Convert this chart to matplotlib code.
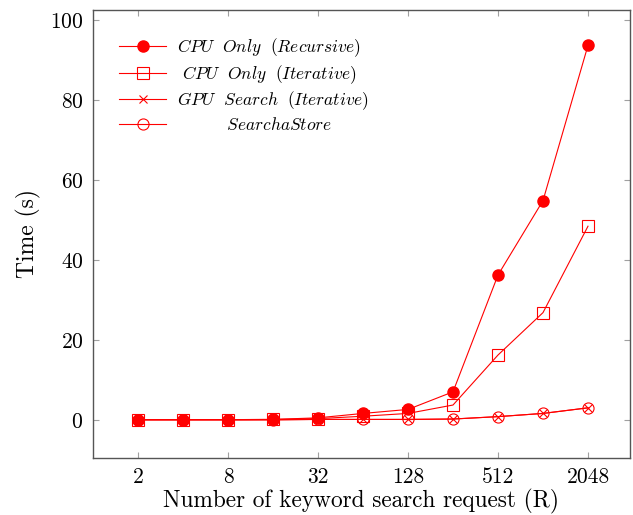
import numpy as np
import matplotlib
matplotlib.use("Agg")
import matplotlib.pyplot as plt

plt.rcParams['font.family'] = 'serif'
plt.rcParams['font.serif'] = ['cmr10']
plt.rcParams['mathtext.fontset'] = 'cm'
plt.rcParams['axes.unicode_minus'] = False
plt.rcParams['axes.formatter.use_mathtext'] = True

requests = [2, 4, 8, 16, 32, 64, 128, 256, 512, 1024, 2048]
cpu_recursive = [0.05, 0.05, 0.05, 0.1, 0.5, 1.6, 2.6, 7.0, 36.2, 54.8, 93.6]
cpu_iterative = [0.05, 0.05, 0.05, 0.1, 0.3, 0.9, 1.6, 3.7, 16.2, 26.8, 48.4]
gpu_iterative = [0.0, 0.0, 0.0, 0.0, 0.1, 0.1, 0.1, 0.2, 0.8, 1.6, 3.0]
searchastore = [0.0, 0.0, 0.0, 0.0, 0.1, 0.1, 0.1, 0.2, 0.8, 1.6, 3.0]
xtick_vals = [2, 8, 32, 128, 512, 2048]

fig = plt.figure(figsize=(6.33, 5.15), dpi=100)
ax = fig.add_axes([0.147, 0.111, 0.848, 0.870])

red = '#ff0000'
ax.plot(requests, cpu_recursive, color=red, lw=0.8, marker='o', ms=8,
        mfc=red, mec=red, label=r'$CPU\ \ Only\ \ (Recursive)$')
ax.plot(requests, cpu_iterative, color=red, lw=0.8, marker='s', ms=8,
        mfc='none', mec=red, mew=0.8, label=r'$\ CPU\ \ Only\ \ (Iterative)$')
ax.plot(requests, gpu_iterative, color=red, lw=0.8, marker='x', ms=6,
        mec=red, mew=0.8, label=r'$GPU\ \ Search\ \ (Iterative)$')
ax.plot(requests, searchastore, color=red, lw=0.8, marker='o', ms=8,
        mfc='none', mec=red, mew=0.8, label=r'$\qquad\quad\; SearchaStore$')

ax.set_xscale('log', base=2)
ax.set_xlim(1, 2048 * 2 ** 0.93)
ax.set_ylim(-9.5, 102.5)
ax.set_xticks(xtick_vals)
ax.set_xticklabels([str(v) for v in xtick_vals])
ax.minorticks_off()
ax.set_yticks([0, 20, 40, 60, 80, 100])

ax.tick_params(direction='in', length=4.5, width=0.8, color='#a0a0a0',
               top=True, right=True, labelsize=15.5)
ax.tick_params(axis='y', pad=7)
ax.tick_params(axis='x', pad=7)
for s in ax.spines.values():
    s.set_color('#555555')
    s.set_linewidth(1.0)

ax.set_xlabel('Number of keyword search request (R)', fontsize=16.8, labelpad=1)
ax.set_ylabel('Time (s)', fontsize=17, labelpad=6)

leg = ax.legend(loc='upper left', frameon=False, fontsize=12.5,
                bbox_to_anchor=(0.02, 0.975), handlelength=2.7,
                labelspacing=0.22, handletextpad=0.6, borderpad=0.4)

fig.savefig('out.png', dpi=100)
